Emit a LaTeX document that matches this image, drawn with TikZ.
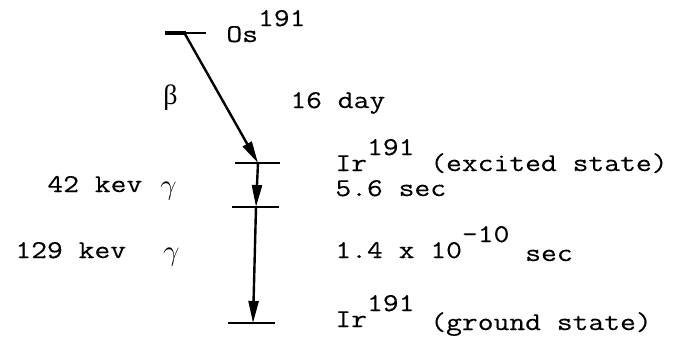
\documentclass[tikz,border=0pt]{standalone}
\usepackage{fontspec}
\setmainfont{Latin Modern Mono}[FakeStretch=1.2, FakeBold=0.25]
\newfontfamily\greekfont{Liberation Serif}
\usetikzlibrary{arrows.meta}
% raised index written at full size, typewriter style
\newcommand\raiseidx[1]{\raisebox{8pt}{#1}}
\tikzset{
  txt/.style={anchor=base west, inner sep=0pt, font=\fontsize{12.8}{15}\selectfont},
  level/.style={line width=1.1pt},
  decay/.style={line width=1.2pt, -{Triangle[length=11pt,width=5pt]}, shorten >=0pt},
}
\begin{document}
\begin{tikzpicture}[x=0.5pt, y=-0.5pt]
\useasboundingbox (0,0) rectangle (676,345);

% energy levels
\coordinate (os)  at (185,34);
\coordinate (ex)  at (258,163);
\coordinate (mid) at (256,207);
\coordinate (gr)  at (253,323);
\draw[level] (165,33) -- (206,33);
\draw[line width=2pt] (165,33) -- (186,33);
\draw[level] (235,163) -- (280,163);
\draw[level] (232,207) -- (279,207);
\draw[level] (228,323) -- (275,323);

% transitions
\draw[decay] (os) -- (ex);
\draw[decay] (ex) -- (mid);
\draw[decay] (mid) -- (gr);

% labels
\node[txt] (osl) at (226,42) {Os\raiseidx{191}};
\node[txt] (beta) at (163,104) {\greekfont\fontsize{14}{15}\selectfont β};
\node[txt] (t16) at (290,108) {16 day};
\node[txt] (irx) at (335,171) {Ir\raiseidx{191} (excited state)};
\node[txt] (t56) at (335,196) {5.6 sec};
\node[txt] (e42) at (47,192) {42 kev};
\node[txt] (g1) at (160,194) {\fontsize{14}{15}\selectfont$\gamma$};
\node[txt] (e129) at (15,258) {129 kev};
\node[txt] (g2) at (163,260) {\fontsize{14}{15}\selectfont$\gamma$};
\node[txt] (t14) at (335,258) {1.4 x 10\raiseidx{-10} \raisebox{-1.5pt}{sec}};
\node[txt] (irg) at (335,327) {Ir\raiseidx{191} \raisebox{-1.5pt}{(ground state)}};
\end{tikzpicture}
\end{document}
